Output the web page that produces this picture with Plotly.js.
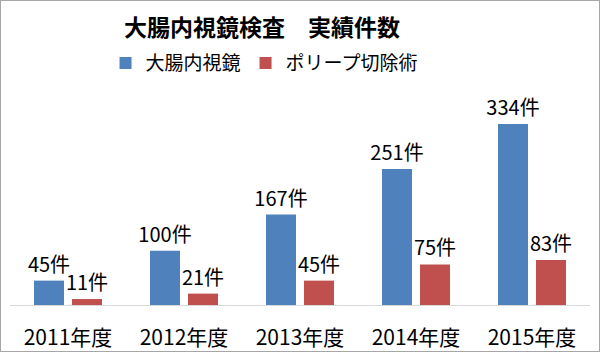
<!DOCTYPE html>
<html><head><meta charset="utf-8">
<script src="https://cdn.plot.ly/plotly-3.0.1.min.js"></script>
<style>html,body{margin:0;padding:0;background:#fff}#c{width:598px;height:350px;border:1px solid #a6a6a6}</style>
</head><body><div id="c"></div>
<script>
const categories = ['2011年度','2012年度','2013年度','2014年度','2015年度'];
const endoscopy = [45, 100, 167, 251, 334];
const polypectomy = [11, 21, 45, 75, 83];
const seriesNames = ['大腸内視鏡','ポリープ切除術'];
const F = '"Noto Sans CJK JP", sans-serif';
const lab = a => a.map(v => v + '件');
const tf = {family:F,size:20,color:'#000'};
const data = [
  {type:'bar', x:categories, y:endoscopy, name:seriesNames[0], marker:{color:'#4F81BD'},
   text:lab(endoscopy), textposition:'outside', constraintext:'none', textfont:tf, cliponaxis:false, hoverinfo:'none'},
  {type:'bar', x:categories, y:polypectomy, name:seriesNames[1], marker:{color:'#C0504D'},
   text:lab(polypectomy), textposition:'outside', constraintext:'none', textfont:tf, cliponaxis:false, hoverinfo:'none'}
];
const layout = {
  width:598, height:350, paper_bgcolor:'#fff', plot_bgcolor:'#fff',
  margin:{l:9, r:9, t:89, b:46},
  font:{family:F, color:'#000'},
  title:{text:'<b>大腸内視鏡検査　実績件数</b>', font:{family:F,size:23,color:'#000'}, xref:'container', x:0.4365, xanchor:'center', y:0.922, yanchor:'middle'},
  showlegend:true,
  legend:{orientation:'h', x:0.438, xanchor:'center', y:1.125, yanchor:'middle', font:{family:F,size:19,color:'#000'}, itemwidth:30},
  barmode:'group', bargap:0.345, bargroupgap:0.21,
  xaxis:{showline:true, linecolor:'#d9d9d9', linewidth:1, ticks:'', ticklabelstandoff:14, tickfont:{family:F,size:21,color:'#000'}, fixedrange:true},
  yaxis:{range:[0,397], visible:false, showgrid:false, zeroline:false, fixedrange:true}
};
Plotly.newPlot('c', data, layout, {staticPlot:true});
</script></body></html>
